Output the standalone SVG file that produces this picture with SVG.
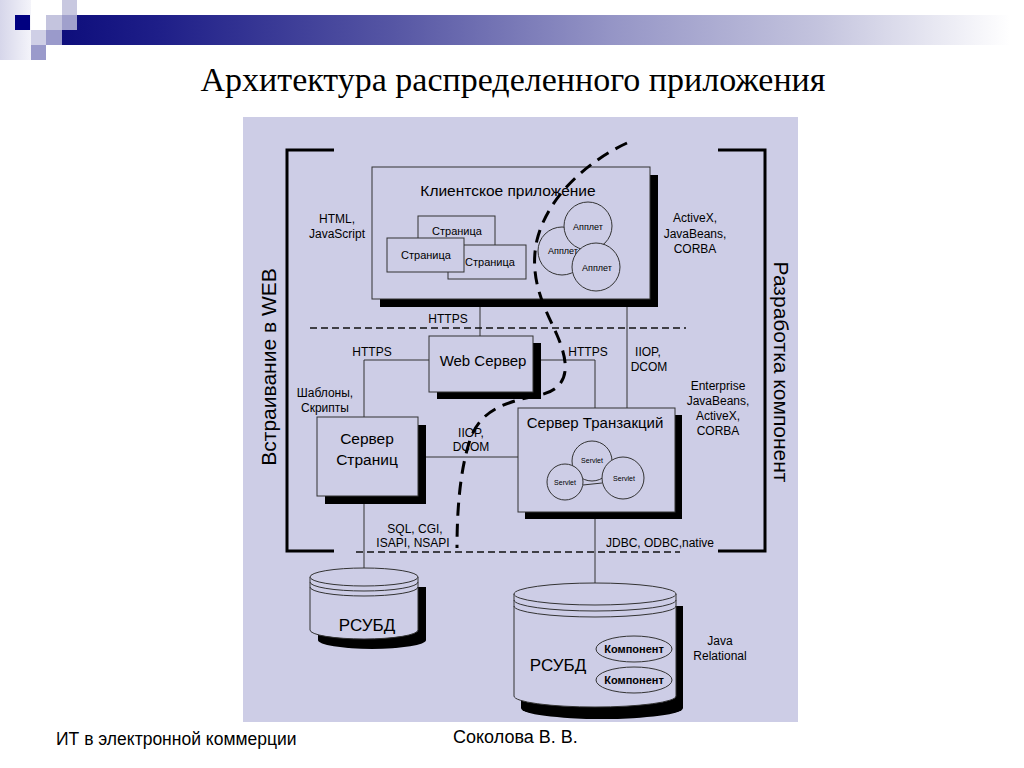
<svg xmlns="http://www.w3.org/2000/svg" width="1024" height="768" viewBox="0 0 1024 768">
<defs>
<linearGradient id="bar" x1="0" x2="1" y1="0" y2="0">
<stop offset="0" stop-color="#0e0e7c"/>
<stop offset="0.1" stop-color="#1e1e88"/>
<stop offset="0.35" stop-color="#5656a4"/>
<stop offset="0.58" stop-color="#9595c6"/>
<stop offset="0.8" stop-color="#c4c4de"/>
<stop offset="1" stop-color="#ffffff"/>
</linearGradient>
<linearGradient id="edge" x1="0" y1="0" x2="1" y2="0">
<stop offset="0" stop-color="#d6d6ea"/>
<stop offset="1" stop-color="#f4f4fa"/>
</linearGradient>
<style>
.panel{fill:#cdcde6}
.box{fill:#cdcde6;stroke:#333;stroke-width:1}
.sh{fill:#000}
.ln{fill:none;stroke:#333;stroke-width:1}
.dash{fill:none;stroke:#111;stroke-width:1.5;stroke-dasharray:7 4}
.curve{fill:none;stroke:#000;stroke-width:3;stroke-dasharray:13 8}
.brk{fill:none;stroke:#000;stroke-width:3}
.t{font-family:"Liberation Sans",Arial,sans-serif;fill:#000;text-anchor:middle}
.lab{font-size:12px}
.big{font-size:15.5px}
.sm{font-size:11px}
.tiny{font-size:9px}
.srv{font-size:7px}
.db{font-size:17px}
.cmp{font-size:11px;font-weight:bold}
.side{font-size:21px}
.foot{font-family:"Liberation Sans",Arial,sans-serif;fill:#000}
</style>
</defs>

<!-- header decoration -->
<g id="header">
<rect x="0" y="0" width="31" height="60" fill="url(#edge)"/>
<rect x="62" y="15" width="948" height="30" fill="url(#bar)"/>
<rect x="15" y="15" width="15" height="15" fill="#000080"/>
<rect x="62" y="0" width="15" height="15" fill="#c8c8e0"/>
<rect x="46" y="15" width="16" height="15" fill="#c4c4de"/>
<rect x="62" y="15" width="15" height="15" fill="#a0a0cc"/>
<rect x="31" y="30" width="15" height="15" fill="#cfcfe6"/>
<rect x="46" y="30" width="16" height="15" fill="#9a9acb"/>
<rect x="31" y="45" width="15" height="15" fill="#9a9acb"/>
</g>

<text x="513" y="91" font-family="'Liberation Serif','Times New Roman',serif" font-size="34" text-anchor="middle" fill="#000">Архитектура распределенного приложения</text>

<rect class="panel" x="243" y="117" width="555" height="605"/>

<!-- brackets -->
<g id="brackets">
<path class="brk" d="M334,150 H287 V551 H334"/>
<path class="brk" d="M718,150 H765 V551 H718"/>
</g>
<text class="t side" transform="translate(276,367) rotate(-90)">Встраивание в WEB</text>
<text class="t side" transform="translate(774,372) rotate(90)">Разработка компонент</text>

<!-- connectors -->
<g id="connectors">
<path class="ln" d="M480,299 V336"/>
<path class="ln" d="M429,360 H364 V417"/>
<path class="ln" d="M533,360 H595 V408"/>
<path class="ln" d="M627,299 V408"/>
<path class="ln" d="M418,457 H518"/>
<path class="ln" d="M364,496 V568"/>
<path class="ln" d="M595,512 V583"/>
<path class="dash" d="M310,328 H686"/>
<path class="dash" d="M356,552 H680"/>
</g>

<!-- client application -->
<g id="client">
<rect class="sh" x="380" y="175" width="278" height="132"/>
<rect class="box" x="372" y="167" width="278" height="132"/>
<text class="t big" x="508" y="196">Клиентское приложение</text>
<rect class="box" x="418" y="216" width="77" height="36"/>
<text class="t sm" x="457" y="235">Страница</text>
<rect class="box" x="448" y="245" width="78" height="34"/>
<text class="t sm" x="490" y="266">Страница</text>
<rect class="box" x="387" y="238" width="77" height="34"/>
<text class="t sm" x="426" y="259">Страница</text>
<circle class="box" cx="562" cy="251" r="24"/>
<circle class="box" cx="588" cy="226" r="24"/>
<circle class="box" cx="596" cy="267" r="24"/>
<text class="t tiny" x="588" y="230">Апплет</text>
<text class="t tiny" x="563" y="254">Апплет</text>
<text class="t tiny" x="597" y="271">Апплет</text>
</g>

<!-- web server -->
<g id="web-server">
<rect class="sh" x="437" y="343" width="104" height="56"/>
<rect class="box" x="429" y="336" width="104" height="56"/>
<text class="t" x="483" y="366" font-size="15">Web Сервер</text>
</g>

<!-- page server -->
<g id="page-server">
<rect class="sh" x="325" y="425" width="101" height="79"/>
<rect class="box" x="317" y="417" width="101" height="79"/>
<text class="t big" x="367" y="444">Сервер</text>
<text class="t big" x="367" y="465">Страниц</text>
</g>

<!-- transaction server -->
<g id="transaction-server">
<rect class="sh" x="525" y="415" width="157" height="104"/>
<rect class="box" x="518" y="408" width="157" height="104"/>
<text class="t" x="595" y="428" font-size="15">Сервер Транзакций</text>
<circle class="box" cx="592" cy="461" r="20"/>
<circle class="box" cx="565" cy="482" r="18"/>
<circle class="box" cx="623" cy="478" r="21"/>
<path class="ln" d="M583,485 L602,483"/>
<text class="t srv" x="592" y="463">Servlet</text>
<text class="t srv" x="565" y="485">Servlet</text>
<text class="t srv" x="624" y="481">Servlet</text>
</g>

<!-- DB 1 -->
<g id="db1">
<path class="sh" transform="translate(8,10)" d="M310,577 V630 A54,9 0 0 0 418,630 V577 Z"/>
<path class="box" d="M310,577 V630 A54,9 0 0 0 418,630 V577 Z"/>
<ellipse class="box" cx="364" cy="577" rx="54" ry="9"/>
<path class="ln" d="M310,582 A54,9 0 0 0 418,582"/>
<path class="ln" d="M310,587 A54,9 0 0 0 418,587"/>
<text class="t db" x="367" y="631">РСУБД</text>
</g>

<!-- DB 2 -->
<g id="db2">
<path class="sh" transform="translate(7,12)" d="M514,594 V696 A81,11 0 0 0 676,696 V594 Z"/>
<path class="box" d="M514,594 V696 A81,11 0 0 0 676,696 V594 Z"/>
<ellipse class="box" cx="595" cy="594" rx="81" ry="11"/>
<path class="ln" d="M514,600 A81,11 0 0 0 676,600"/>
<path class="ln" d="M514,606 A81,11 0 0 0 676,606"/>
<text class="t db" x="558" y="671">РСУБД</text>
<ellipse class="box" cx="634" cy="649" rx="38" ry="13"/>
<text class="t cmp" x="634" y="653">Компонент</text>
<ellipse class="box" cx="634" cy="680" rx="38" ry="13"/>
<text class="t cmp" x="634" y="684">Компонент</text>
</g>

<!-- dashed boundary curve -->
<path class="curve" d="M627,143 C590,160 548,195 537,240 C528,280 546,310 557,335 C570,365 570,388 540,395 C505,402 480,410 470,440 C460,470 457,510 457,548"/>

<!-- labels -->
<g id="labels">
<text class="t lab" x="337" y="223">HTML,</text>
<text class="t lab" x="337" y="238">JavaScript</text>
<text class="t lab" x="695" y="222">ActiveX,</text>
<text class="t lab" x="695" y="238">JavaBeans,</text>
<text class="t lab" x="695" y="253">CORBA</text>
<text class="t lab" x="448" y="323">HTTPS</text>
<text class="t lab" x="372" y="356">HTTPS</text>
<text class="t lab" x="588" y="356">HTTPS</text>
<text class="t lab" x="648" y="356">IIOP,</text>
<text class="t lab" x="649" y="371">DCOM</text>
<text class="t lab" x="325" y="397">Шаблоны,</text>
<text class="t lab" x="325" y="412">Скрипты</text>
<text class="t lab" x="471" y="437">IIOP,</text>
<text class="t lab" x="471" y="451">DCOM</text>
<text class="t lab" x="718" y="390">Enterprise</text>
<text class="t lab" x="718" y="405">JavaBeans,</text>
<text class="t lab" x="718" y="420">ActiveX,</text>
<text class="t lab" x="718" y="435">CORBA</text>
<text class="t lab" x="415" y="533">SQL, CGI,</text>
<text class="t lab" x="413" y="547">ISAPI, NSAPI</text>
<text class="t lab" x="660" y="547">JDBC, ODBC,native</text>
<text class="t lab" x="720" y="645">Java</text>
<text class="t lab" x="720" y="660">Relational</text>
</g>

<text class="foot" x="56" y="745" font-size="17.5">ИТ в электронной коммерции</text>
<text class="foot" x="453" y="743" font-size="18">Соколова В. В.</text>
</svg>
